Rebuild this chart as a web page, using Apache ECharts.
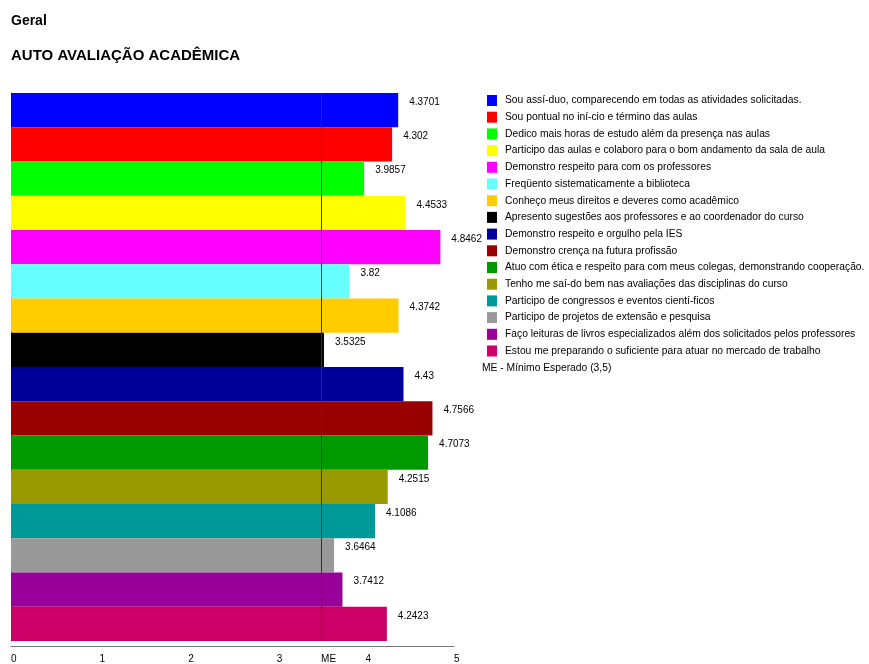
<!DOCTYPE html>
<html>
<head>
<meta charset="utf-8">
<title>Auto avaliação acadêmica</title>
<script src="https://cdn.jsdelivr.net/npm/echarts@6/dist/echarts.min.js"></script>
<style>
  html, body { margin: 0; padding: 0; background: #fff; overflow: hidden; }
  #chart { width: 869px; height: 664px; }
</style>
</head>
<body>
<div id="chart"></div>
<script>
// itens avaliados (de cima para baixo)
var itens = [
  'Sou assí-duo, comparecendo em todas as atividades solicitadas.',
  'Sou pontual no iní-cio e término das aulas',
  'Dedico mais horas de estudo além da presença nas aulas',
  'Participo das aulas e colaboro para o bom andamento da sala de aula',
  'Demonstro respeito para com os professores',
  'Freqüento sistematicamente a biblioteca',
  'Conheço meus direitos e deveres como acadêmico',
  'Apresento sugestões aos professores e ao coordenador do curso',
  'Demonstro respeito e orgulho pela IES',
  'Demonstro crença na futura profissão',
  'Atuo com ética e respeito para com meus colegas, demonstrando cooperação.',
  'Tenho me saí-do bem nas avaliações das disciplinas do curso',
  'Participo de congressos e eventos cientí-ficos',
  'Participo de projetos de extensão e pesquisa',
  'Faço leituras de livros especializados além dos solicitados pelos professores',
  'Estou me preparando o suficiente para atuar no mercado de trabalho'
];
// médias
var medias = [4.3701, 4.302, 3.9857, 4.4533, 4.8462, 3.82, 4.3742, 3.5325,
              4.43, 4.7566, 4.7073, 4.2515, 4.1086, 3.6464, 3.7412, 4.2423];
var cores = ['#0000ff', '#ff0000', '#00ff00', '#ffff00', '#ff00ff', '#66ffff',
             '#ffcc00', '#000000', '#000099', '#990000', '#009900', '#999900',
             '#009999', '#999999', '#990099', '#cc0066'];
// ME - mínimo esperado
var minimoEsperado = 3.5;
var ticksX = [0, 1, 2, 3, 3.5, 4, 5];

var fonte = 'Liberation Sans, Arial, sans-serif';

var series = [];
for (var i = 0; i < itens.length; i++) {
  var dados = [];
  for (var j = 0; j < medias.length; j++) {
    dados.push(j === i ? medias[j] : '-');
  }
  series.push({
    name: itens[i],
    type: 'bar',
    stack: 'total',
    barCategoryGap: '0%',
    data: dados,
    itemStyle: { color: cores[i] },
    label: {
      show: true,
      position: ['100%', 0],
      offset: [11, 4],
      align: 'left',
      verticalAlign: 'top',
      fontFamily: fonte,
      fontSize: 10,
      color: '#000'
    }
  });
}
// linha do mínimo esperado
series[series.length - 1].markLine = {
  silent: true,
  symbol: 'none',
  label: { show: false },
  lineStyle: { color: '#333', type: 'solid', width: 1 },
  data: [{ xAxis: minimoEsperado }]
};

var option = {
  animation: false,
  backgroundColor: '#fff',
  title: [
    {
      text: 'Geral',
      left: 11, top: 14, padding: 0,
      textStyle: { fontFamily: fonte, fontSize: 14, fontWeight: 'bold', color: '#000' }
    },
    {
      text: 'AUTO AVALIAÇÃO ACADÊMICA',
      left: 11, top: 48, padding: 0,
      textStyle: { fontFamily: fonte, fontSize: 15, fontWeight: 'bold', color: '#000' }
    },
    {
      text: 'ME - Mínimo Esperado (3,5)',
      left: 482, top: 363, padding: 0,
      textStyle: { fontFamily: fonte, fontSize: 10.3, fontWeight: 'normal', color: '#000' }
    }
  ],
  legend: {
    orient: 'vertical',
    left: 487, top: 95, padding: 0,
    icon: 'rect',
    itemWidth: 10, itemHeight: 11, itemGap: 5.7,
    selectedMode: false,
    textStyle: { fontFamily: fonte, fontSize: 10.3, color: '#000', padding: [0, 0, 0, 3] },
    data: itens
  },
  grid: { left: 11, top: 93, width: 443, height: 551, containLabel: false },
  xAxis: {
    type: 'value',
    min: 0, max: 5, interval: 1,
    offset: 5,
    splitLine: { show: false },
    axisTick: { show: false },
    axisLine: { show: true, lineStyle: { color: '#777', width: 1 } },
    axisLabel: {
      customValues: ticksX,
      formatter: function (v) { return v === minimoEsperado ? 'ME' : String(v); },
      align: 'left',
      margin: 8,
      fontFamily: fonte,
      fontSize: 10,
      color: '#000'
    }
  },
  yAxis: {
    type: 'category',
    inverse: true,
    data: itens,
    axisLabel: { show: false },
    axisTick: { show: false },
    axisLine: { show: true, lineStyle: { color: '#444' } }
  },
  series: series
};

var chart = echarts.init(document.getElementById('chart'));
chart.setOption(option);
</script>
</body>
</html>
